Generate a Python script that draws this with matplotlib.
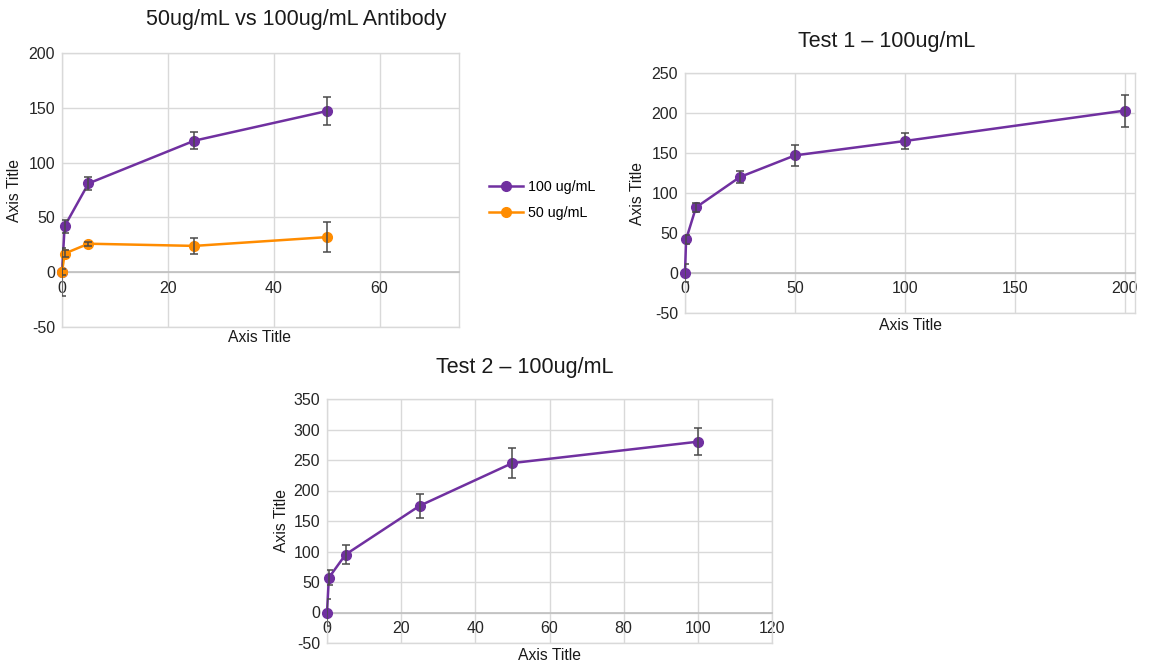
import matplotlib
matplotlib.use("Agg")
import matplotlib.pyplot as plt

plt.rcParams['font.family'] = ['Liberation Sans', 'DejaVu Sans']
plt.rcParams['axes.unicode_minus'] = False

PURPLE = '#7030A0'
ORANGE = '#FF8C00'
ERR = '#4a4a4a'
GRID = '#D9D9D9'
ZERO = '#BFBFBF'

# Panel 1: 50 vs 100 ug/mL
conc_a = [0, 0.5, 5, 25, 50]
resp_100 = [0, 42, 81, 120, 147]
err_100 = [22, 6, 6, 8, 13]
resp_50 = [0, 17, 26, 24, 32]
err_50 = [3, 3, 2, 7, 14]

# Panel 2: Test 1
conc_t1 = [0, 0.5, 5, 25, 50, 100, 200]
resp_t1 = [0, 42, 82, 120, 147, 165, 203]
err_t1 = [11, 6, 6, 8, 13, 10, 20]

# Panel 3: Test 2
conc_t2 = [0, 0.5, 5, 25, 50, 100]
resp_t2 = [0, 57, 95, 175, 245, 280]
err_t2 = [22, 12, 15, 20, 24, 22]

W, H = 1158, 664
fig = plt.figure(figsize=(W / 100, H / 100), dpi=100)


def px_axes(left, top, right, bottom):
    return fig.add_axes([left / W, 1 - bottom / H, (right - left) / W, (bottom - top) / H])


def style(ax, xlim, xticks, ylim, yticks):
    ax.set_xlim(*xlim)
    ax.set_ylim(*ylim)
    ax.set_xticks(xticks)
    ax.set_yticks(yticks)
    ax.grid(True, color=GRID, linewidth=1.0)
    ax.set_axisbelow(True)
    # lower frame edge, drawn as a gridline since the x axis sits at y=0
    ax.axhline(ylim[0], color=GRID, linewidth=1.0, clip_on=False, zorder=0.5)
    for s in ('left', 'right', 'top'):
        ax.spines[s].set_color(GRID)
        ax.spines[s].set_linewidth(1.0)
    ax.spines['bottom'].set_position(('data', 0))
    ax.spines['bottom'].set_color(ZERO)
    ax.spines['bottom'].set_linewidth(1.2)
    ax.tick_params(length=0, labelsize=11.5, colors='#262626', pad=5)
    ax.tick_params(axis='x', pad=6)


def series(ax, x, y, e, color, label=None):
    ax.errorbar(x, y, yerr=e, fmt='none', ecolor=ERR, elinewidth=1.1,
                capsize=3.2, capthick=1.1, zorder=4)
    line, = ax.plot(x, y, color=color, linewidth=1.8, marker='o',
                    markersize=7, zorder=3, label=label, clip_on=False)
    return line


def labels(title, tx, ty, xl_x, xl_y, yl_x, yl_y):
    fig.text(tx / W, 1 - ty / H, title, ha='center', va='center', fontsize=15.5, color='#1a1a1a')
    fig.text(xl_x / W, 1 - xl_y / H, 'Axis Title', ha='center', va='center', fontsize=11.3, color='#1a1a1a')
    fig.text(yl_x / W, 1 - yl_y / H, 'Axis Title', ha='center', va='center', fontsize=11.3,
             rotation=90, color='#1a1a1a')


# Panel 1
ax1 = px_axes(62, 53, 459, 327)
style(ax1, (0, 75), [0, 20, 40, 60], (-50, 200), [-50, 0, 50, 100, 150, 200])
l100 = series(ax1, conc_a, resp_100, err_100, PURPLE, '100 ug/mL')
l50 = series(ax1, conc_a, resp_50, err_50, ORANGE, '50 ug/mL')
labels('50ug/mL vs 100ug/mL Antibody', 296, 20, 260, 338, 15, 190)
fig.legend(handles=[l100, l50], loc='center left', bbox_to_anchor=(476 / W, 1 - 200 / H),
           frameon=False, fontsize=10.3, handlelength=2.4, labelspacing=0.9, handletextpad=0.35)

# Panel 2
ax2 = px_axes(685, 73, 1135, 313)
style(ax2, (0, 204.7), [0, 50, 100, 150, 200], (-50, 250), [-50, 0, 50, 100, 150, 200, 250])
series(ax2, conc_t1, resp_t1, err_t1, PURPLE)
labels('Test 1 \u2013 100ug/mL', 887, 42, 910, 326, 638, 193)

# Panel 3
ax3 = px_axes(327, 399, 772, 643)
style(ax3, (0, 120), [0, 20, 40, 60, 80, 100, 120], (-50, 350),
      [-50, 0, 50, 100, 150, 200, 250, 300, 350])
series(ax3, conc_t2, resp_t2, err_t2, PURPLE)
labels('Test 2 \u2013 100ug/mL', 525, 368, 550, 655, 281, 520)

fig.savefig('out.png', dpi=100, facecolor='white')
